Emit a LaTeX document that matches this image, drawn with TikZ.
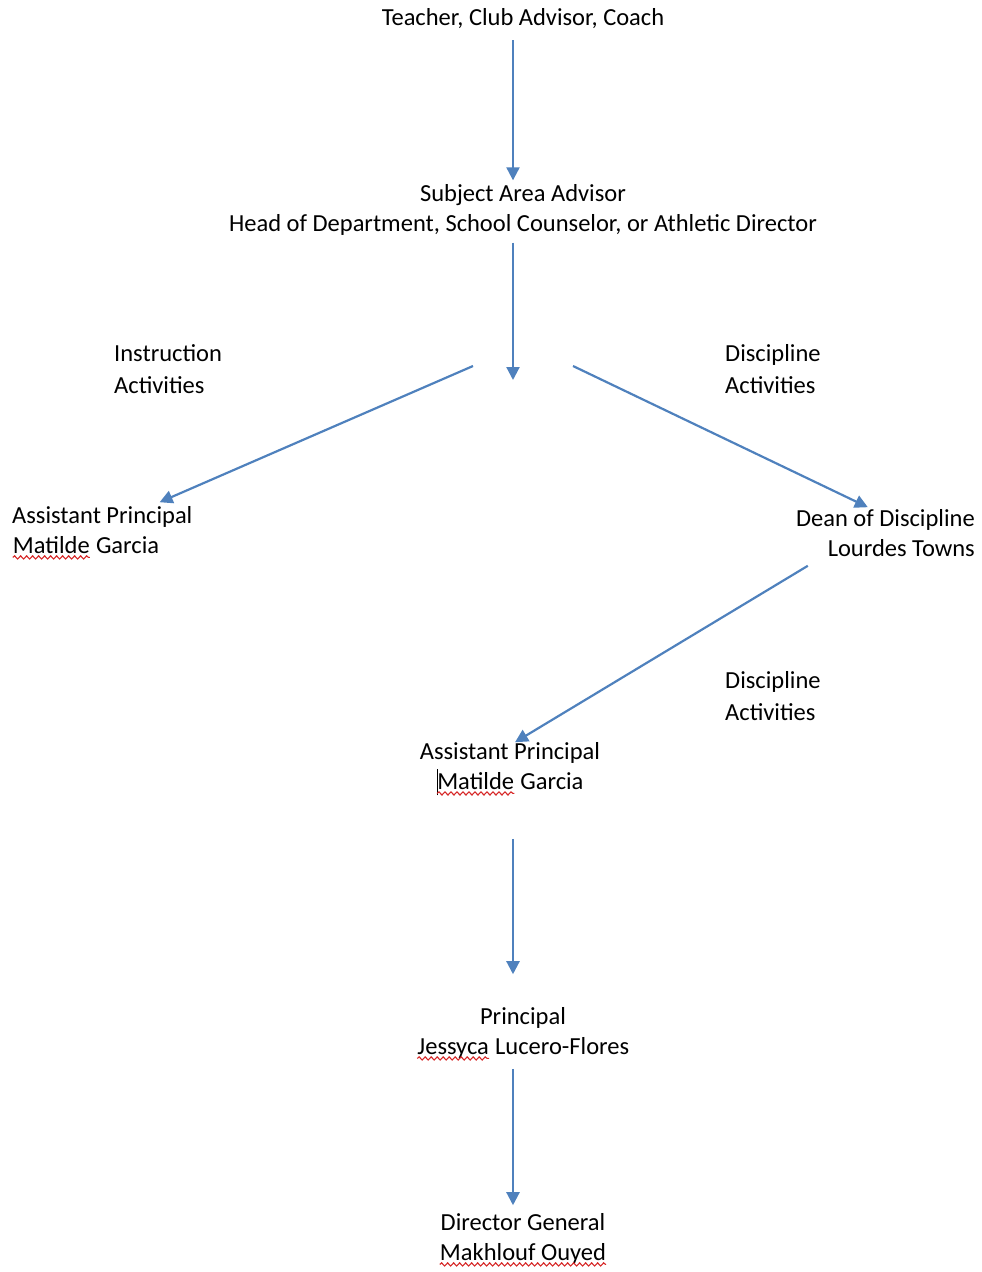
\documentclass[tikz,border=0pt]{standalone}
\usepackage{fontspec}
\setmainfont{Carlito}
\usepackage{tikz}
\usetikzlibrary{arrows.meta,decorations.pathmorphing}
\definecolor{flowblue}{RGB}{79,129,189}
\definecolor{spellred}{RGB}{214,40,40}
\tikzset{
  lbl/.style={inner sep=0pt, font=\fontsize{24.5}{30}\selectfont},
  flow/.style={draw=flowblue, line width=2.2pt, -{Triangle[length=13pt,width=13pt]}},
  squig/.style={draw=spellred, line width=1.1pt,
    decorate, decoration={snake, segment length=6pt, amplitude=1.6pt}}
}
% red wavy mark under a word
\newcommand\spellmark[1]{\tikz[baseline=(w.base)]{\node[inner sep=0pt] (w) {#1};
  \draw[squig] ([yshift=-4pt]w.base west) -- ([yshift=-4pt]w.base east);}}
\newcommand\cursorbar{\smash{\rule[-6pt]{0.9pt}{26pt}}\kern-0.9pt}

\begin{document}
\begin{tikzpicture}[x=1pt,y=1pt]
\useasboundingbox (0,0) rectangle (982,-1272);
\node[lbl] (teacher) at (523,-19) {Teacher, Club Advisor, Coach};
\node[lbl, align=center] (advisor) at (523,-210) {Subject Area Advisor\\Head of Department, School Counselor, or Athletic Director};
\coordinate (split) at (513,-380);
\node[lbl, anchor=west, align=left, font=\fontsize{24.5}{32}\selectfont] (instr) at (114,-369) {Instruction\\Activities};
\node[lbl, anchor=west, align=left, font=\fontsize{24.5}{32}\selectfont] (discA) at (725,-369) {Discipline\\Activities};
\node[lbl, anchor=west, align=left] (apleft) at (12,-533) {Assistant Principal\\\spellmark{Matilde} Garcia};
\node[lbl, anchor=east, align=right] (dean) at (975,-533) {Dean of Discipline\\Lourdes Towns};
\node[lbl, anchor=west, align=left, font=\fontsize{24.5}{32}\selectfont] (discB) at (725,-696) {Discipline\\Activities};
\node[lbl, align=center] (apmid) at (510,-769) {Assistant Principal\\\cursorbar\spellmark{Matilde} Garcia};
\node[lbl, align=center] (principal) at (523,-1034) {Principal\\\spellmark{Jessyca} Lucero-Flores};
\node[lbl, align=center] (dg) at (523,-1240) {Director General\\\spellmark{Makhlouf Ouyed}};

\draw[flow, shorten <=11pt, shorten >=4pt] ([xshift=-10]teacher.south) -- ([xshift=-10]advisor.north);
\draw[flow, shorten <=7pt] ([xshift=-10]advisor.south) -- (split);
\draw[flow] ([shift={(-40,14)}]split) -- ([shift={(-33,4)}]apleft.north east);
\draw[flow] ([shift={(60,14)}]split) -- ([shift={(72,2)}]dean.north west);
\draw[flow] ([shift={(12,-9)}]dean.south west) -- ([xshift=5]apmid.north);
\draw[flow, shorten <=43pt, shorten >=33pt] ([xshift=3]apmid.south) -- ([xshift=-10]principal.north);
\draw[flow, shorten <=8pt, shorten >=8pt] ([xshift=-10]principal.south) -- ([xshift=-10]dg.north);
\end{tikzpicture}
\end{document}
